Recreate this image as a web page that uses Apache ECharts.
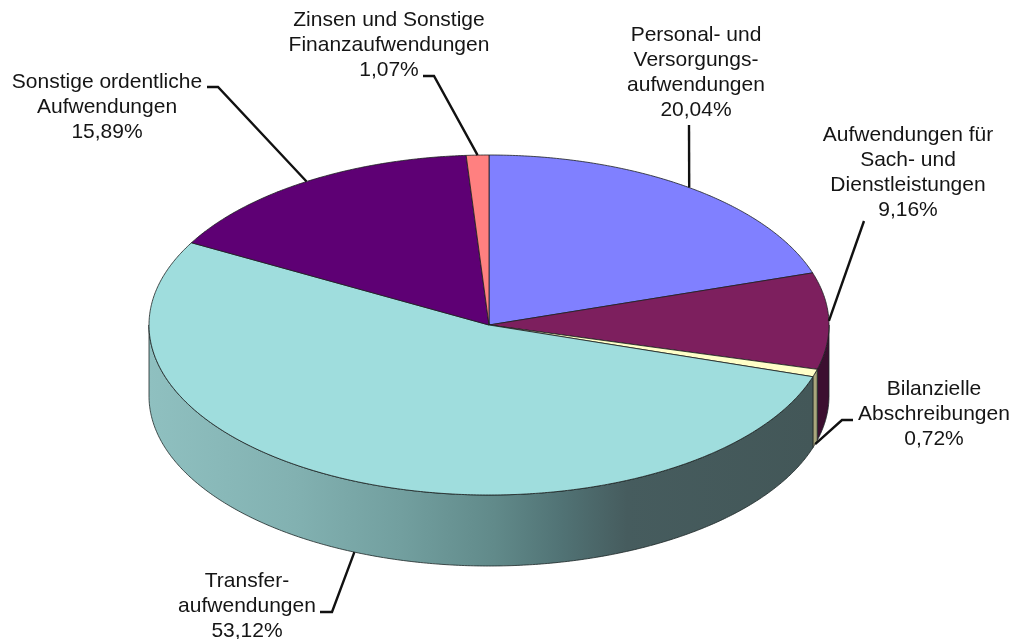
<!DOCTYPE html>
<html>
<head>
<meta charset="utf-8">
<title>Aufwendungen</title>
<style>
  html, body { margin: 0; padding: 0; background: #fff; }
  #chart { width: 1016px; height: 639px; }
</style>
<script src="https://cdn.jsdelivr.net/npm/echarts@6/dist/echarts.min.js"></script>
</head>
<body>
<div id="chart"></div>
<script>
// Werte in Prozent, im Uhrzeigersinn ab 12 Uhr
const categories = [
  'Personal- und\nVersorgungs-\naufwendungen',
  'Aufwendungen für\nSach- und\nDienstleistungen',
  'Bilanzielle\nAbschreibungen',
  'Transfer-\naufwendungen',
  'Sonstige ordentliche\nAufwendungen',
  'Zinsen und Sonstige\nFinanzaufwendungen'
]
const values = [20.04, 9.16, 0.72, 53.12, 15.89, 1.07]

const topColors = ['#8080ff', '#7d1f5e', '#ffffc8', '#9fdddd', '#5e0074', '#ff8080']
const wallColors = ['#404080', '#3c0f30', '#aaa67c', null, '#300040', '#804040']

// Geometrie der Scheibe
const cx = 489
const cy = 325
const rx = 340
const ry = 170
const depth = 71

// Beschriftung: Textmitte und Knickpunkte der Führungslinie
const labelPos = [
  { x: 696, y: 73, line: [[689, 125]] },
  { x: 908, y: 173, line: [[864, 221]] },
  { x: 934, y: 414.5, line: [[842, 420], [853, 420]], onWall: true },
  { x: 247, y: 606.5, line: [[332, 612], [320, 612]], onWall: true },
  { x: 107, y: 107.5, line: [[218, 87], [207, 87]] },
  { x: 389, y: 45, line: [[434, 76], [423, 76]] }
]

const total = values.reduce((a, b) => a + b, 0)

// Startwinkel jedes Stücks (Grad, 0 = oben, im Uhrzeigersinn)
function sliceStart(index) {
  let sum = 0
  for (let i = 0; i < index; i++) {
    sum += values[i]
  }
  return (sum / total) * 360
}

function edgePoint(deg, dz) {
  const rad = (deg * Math.PI) / 180
  return [cx + rx * Math.sin(rad), cy - ry * Math.cos(rad) + dz]
}

function arcPoints(from, to, dz) {
  const pts = []
  const steps = Math.max(2, Math.ceil(Math.abs(to - from) * 2))
  for (let i = 0; i <= steps; i++) {
    pts.push(edgePoint(from + ((to - from) * i) / steps, dz))
  }
  return pts
}

// Verlauf der sichtbaren Mantelfläche beim Transfer-Stück
const transferWall = new echarts.graphic.LinearGradient(
  149, 0, 813, 0,
  [
    { offset: 0, color: '#8fc0c0' },
    { offset: 0.22, color: '#82b1b1' },
    { offset: 0.38, color: '#729f9f' },
    { offset: 0.52, color: '#618a8a' },
    { offset: 0.62, color: '#517375' },
    { offset: 0.72, color: '#465c5e' },
    { offset: 1, color: '#435758' }
  ],
  true
)

function renderWall(params, api) {
  const i = params.dataIndex
  const a0 = sliceStart(i)
  const a1 = a0 + (api.value(0) / total) * 360
  // nur die Vorderseite (90° bis 270°) ist sichtbar
  const from = Math.max(a0, 90)
  const to = Math.min(a1, 270)
  if (to <= from) {
    return
  }
  const pts = arcPoints(from, to, 0).concat(arcPoints(to, from, depth))
  return {
    type: 'polygon',
    shape: { points: pts },
    style: {
      fill: wallColors[i] || transferWall,
      stroke: '#1c2626',
      lineWidth: 0.8
    }
  }
}

function renderTop(params, api) {
  const i = params.dataIndex
  const a0 = sliceStart(i)
  const a1 = a0 + (api.value(0) / total) * 360
  return {
    type: 'polygon',
    shape: { points: [[cx, cy]].concat(arcPoints(a0, a1, 0)) },
    style: {
      fill: topColors[i],
      stroke: '#1c2020',
      lineWidth: 0.8
    }
  }
}

function renderLabel(params, api) {
  const i = params.dataIndex
  const value = api.value(0)
  const mid = sliceStart(i) + (value / total) * 180
  const pos = labelPos[i]
  const start = edgePoint(mid, pos.onWall ? depth : 0)
  return {
    type: 'group',
    children: [
      {
        type: 'polyline',
        shape: { points: [start].concat(pos.line) },
        style: { fill: null, stroke: '#111', lineWidth: 2.4 }
      },
      {
        type: 'text',
        style: {
          x: pos.x,
          y: pos.y,
          text: categories[i] + '\n' + value.toFixed(2).replace('.', ',') + '%',
          fill: '#151515',
          font: '21px "Liberation Sans", Arial, sans-serif',
          lineHeight: 25,
          align: 'center',
          verticalAlign: 'middle'
        }
      }
    ]
  }
}

const myChart = echarts.init(document.getElementById('chart'))
const option = {
  animation: false,
  backgroundColor: '#fff',
  series: [
    { type: 'custom', coordinateSystem: 'none', z: 1, data: values, renderItem: renderWall },
    { type: 'custom', coordinateSystem: 'none', z: 2, data: values, renderItem: renderTop },
    { type: 'custom', coordinateSystem: 'none', z: 3, data: values, renderItem: renderLabel }
  ]
}
myChart.setOption(option)
</script>
</body>
</html>
